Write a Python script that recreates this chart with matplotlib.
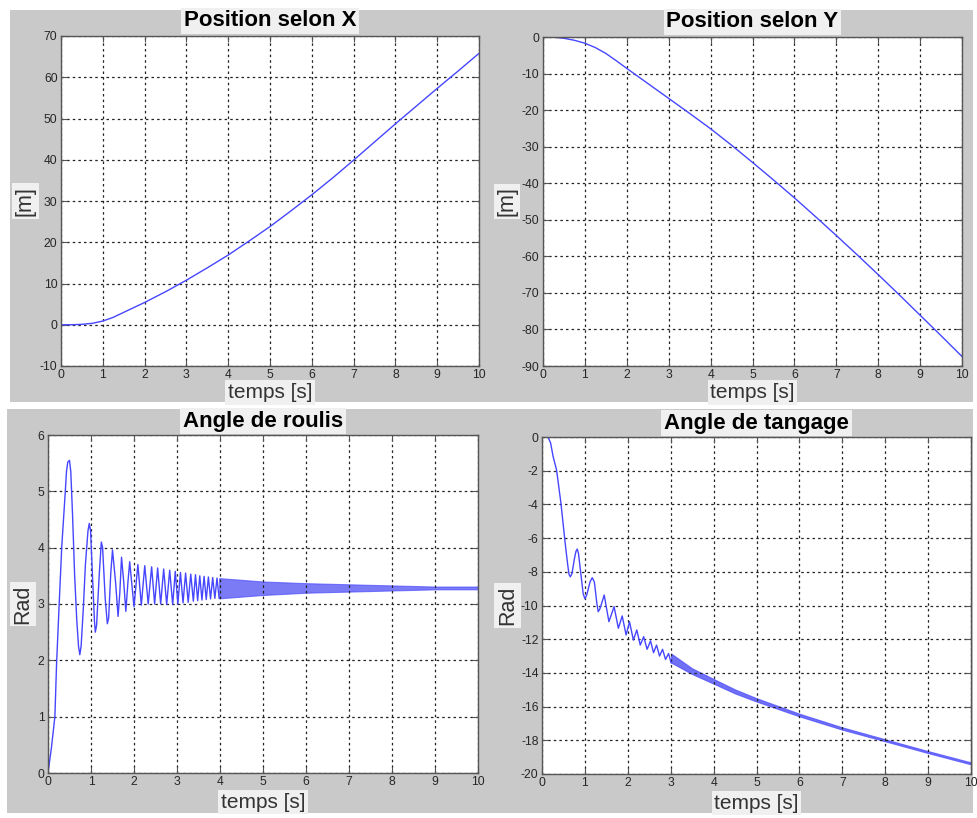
import numpy as np
import matplotlib
matplotlib.use("Agg")
from matplotlib import pyplot as plt
from matplotlib.patches import Rectangle

plt.rcParams['font.family'] = ['Liberation Sans', 'DejaVu Sans']
plt.rcParams['axes.unicode_minus'] = False

W, H = 977, 818

# position along X and Y (m) versus time (s)
t_pos = [0, 0.25, 0.5, 0.75, 1, 1.25, 1.5, 1.75, 2, 2.5, 3, 3.5, 4, 4.5, 5,
         5.5, 6, 6.5, 7, 7.5, 8, 8.5, 9, 9.5, 10]
pos_x = [0, 0, 0.1, 0.35, 0.9, 1.8, 3.0, 4.2, 5.4, 8.0, 10.8, 13.8, 16.9, 20.3, 23.8,
         27.6, 31.5, 35.6, 39.9, 44.3, 48.7, 53.0, 57.3, 61.5, 65.8]
pos_y = [0, -0.05, -0.35, -0.9, -1.7, -2.9, -4.5, -6.5, -8.6, -12.7, -16.8, -20.9,
         -25.1, -29.6, -34.3, -39.1, -44.0, -49.1, -54.3, -59.6, -65.0, -70.5,
         -76.1, -81.7, -87.4]

# roll angle: start-up and visible oscillation extrema
roll_t = [0, 0.08, 0.16, 0.2, 0.26, 0.32, 0.40, 0.43, 0.46, 0.50, 0.53, 0.57, 0.62,
          0.67, 0.71, 0.74, 0.77, 0.82, 0.87, 0.93, 0.96, 0.99, 1.04, 1.08, 1.10,
          1.13, 1.19, 1.24, 1.27, 1.33, 1.38, 1.41, 1.46, 1.50, 1.57, 1.63, 1.67,
          1.71, 1.76, 1.81, 1.86, 1.90, 2.00, 2.09, 2.17, 2.25, 2.33, 2.41, 2.48,
          2.55, 2.62, 2.69, 2.76, 2.83, 2.90, 2.96, 3.02, 3.08, 3.14, 3.20, 3.26,
          3.32, 3.38, 3.43, 3.48, 3.53, 3.58, 3.63, 3.68, 3.73, 3.78, 3.83, 3.88,
          3.93, 3.98]
roll_v = [0, 0.45, 1.0, 1.95, 3.0, 4.02, 4.97, 5.35, 5.52, 5.55, 5.35, 4.6, 3.5,
          2.7, 2.25, 2.1, 2.25, 2.9, 3.7, 4.3, 4.43, 4.3, 3.4, 2.7, 2.5, 2.62,
          3.5, 4.1, 4.0, 3.1, 2.65, 2.75, 3.55, 3.96, 3.4, 2.78, 3.2, 3.83, 3.4,
          2.87, 3.4, 3.75, 2.95, 3.70, 2.98, 3.68, 3.0, 3.66, 3.0, 3.64, 3.0, 3.62,
          2.99, 3.60, 2.99, 3.58, 3.0, 3.56, 3.02, 3.55, 3.03, 3.53, 3.05, 3.52,
          3.06, 3.50, 3.07, 3.49, 3.08, 3.48, 3.09, 3.47, 3.10, 3.46, 3.10]
# roll angle: envelope of the dense oscillation band
roll_band_t = [3.98, 5, 6, 7, 8, 9, 10]
roll_band_hi = [3.46, 3.40, 3.37, 3.35, 3.33, 3.31, 3.31]
roll_band_lo = [3.10, 3.16, 3.20, 3.22, 3.24, 3.26, 3.26]

# pitch angle: start-up and visible oscillation extrema
pitch_t = [0, 0.14, 0.2, 0.26, 0.34, 0.44, 0.54, 0.60, 0.63, 0.66, 0.70, 0.75,
           0.79, 0.82, 0.85, 0.90, 0.96, 1.0, 1.04, 1.12, 1.17, 1.22, 1.28, 1.31,
           1.35, 1.45, 1.56, 1.68, 1.78, 1.87, 1.96, 2.04, 2.13, 2.21, 2.29, 2.37,
           2.45, 2.53, 2.60, 2.67, 2.74, 2.81, 2.88, 2.95, 3.01]
pitch_v = [0, 0, -0.35, -1.17, -1.96, -3.9, -6.3, -7.6, -8.15, -8.3, -8.1, -7.3,
           -6.8, -6.65, -6.9, -8.0, -9.3, -9.6, -9.4, -8.6, -8.35, -8.6, -9.9,
           -10.37, -10.2, -9.38, -10.96, -10.07, -11.35, -10.62, -11.75, -10.96,
           -12.05, -11.45, -12.35, -11.85, -12.6, -12.1, -12.8, -12.35, -13.0, -12.6,
           -13.2, -12.85, -13.4]
# pitch angle: mean and half width of the ripple band
pitch_band_t = [3.01, 3.5, 4, 4.5, 5, 6, 7, 8, 9, 10]
pitch_band_mid = [-13.12, -13.9, -14.5, -15.1, -15.6, -16.5, -17.3, -18.0, -18.7, -19.37]
pitch_band_half = [0.27, 0.17, 0.14, 0.12, 0.1, 0.08, 0.07, 0.06, 0.06, 0.06]

LINE = '#4646ff'
BAND = '#3434f2'
BOX = dict(facecolor='#f0f0f0', edgecolor='none', pad=2)


def rect(l, t, r, b):
    return [l / W, 1 - b / H, (r - l) / W, (b - t) / H]


def style(ax, yticks, title, ylabel, tpad, xpad, ypad):
    ax.set_xlim(0, 10)
    ax.set_xticks(range(0, 11))
    ax.set_ylim(yticks[0], yticks[-1])
    ax.set_yticks(yticks)
    ax.grid(True, linestyle=(0, (2, 2.5)), color='#222222', linewidth=0.9)
    ax.tick_params(direction='in', length=4, top=True, right=True, color='#555555',
                   labelsize=8.7, labelcolor='#262626', pad=2.5)
    for s in ax.spines.values():
        s.set_color('#555555')
        s.set_linewidth(1.0)
    ax.set_title(title, fontsize=16, fontweight='bold', pad=tpad, bbox=BOX)
    ax.set_xlabel('temps [s]', fontsize=15, color='#333333', labelpad=xpad, bbox=BOX)
    ax.set_ylabel(ylabel, fontsize=15.5, color='#333333', labelpad=ypad, bbox=BOX)


fig = plt.figure(figsize=(W / 100, H / 100), dpi=100, facecolor='white')

# grey window backgrounds, kept beneath the axes
for (l, t, r, b) in [(10, 10, 973, 402), (7, 409, 490, 813), (490, 409, 973, 813)]:
    fig.patches.append(Rectangle((l / W, 1 - b / H), (r - l) / W, (b - t) / H,
                                 transform=fig.transFigure, facecolor='#c9c9c9',
                                 edgecolor='none', zorder=-10))

ax1 = fig.add_axes(rect(61, 36, 479, 366))
ax1.plot(t_pos, pos_x, color=LINE, lw=1.0)
style(ax1, list(range(-10, 71, 10)), 'Position selon X', '[m]', 7, 1, 3)

ax2 = fig.add_axes(rect(543, 37, 962, 366))
ax2.plot(t_pos, pos_y, color=LINE, lw=1.0)
style(ax2, list(range(-90, 1, 10)), 'Position selon Y', '[m]', 7, 1, 3)

ax3 = fig.add_axes(rect(48, 435, 478, 773))
ax3.plot(roll_t, roll_v, color=LINE, lw=1.0)
ax3.fill_between(roll_band_t, roll_band_lo, roll_band_hi, color=BAND, alpha=0.65,
                 lw=0.8, edgecolor=LINE)
style(ax3, list(range(0, 7)), 'Angle de roulis', 'Rad', 6, 3, 3)

ax4 = fig.add_axes(rect(542, 437, 971, 774))
ax4.plot(pitch_t, pitch_v, color=LINE, lw=1.0)
mid = np.array(pitch_band_mid)
half = np.array(pitch_band_half)
ax4.fill_between(pitch_band_t, mid - half, mid + half, color=BAND, alpha=0.7,
                 lw=0.8, edgecolor=LINE)
style(ax4, list(range(-20, 1, 2)), 'Angle de tangage', 'Rad', 6, 3, 2)

fig.savefig('out.png', dpi=100, facecolor='white')
